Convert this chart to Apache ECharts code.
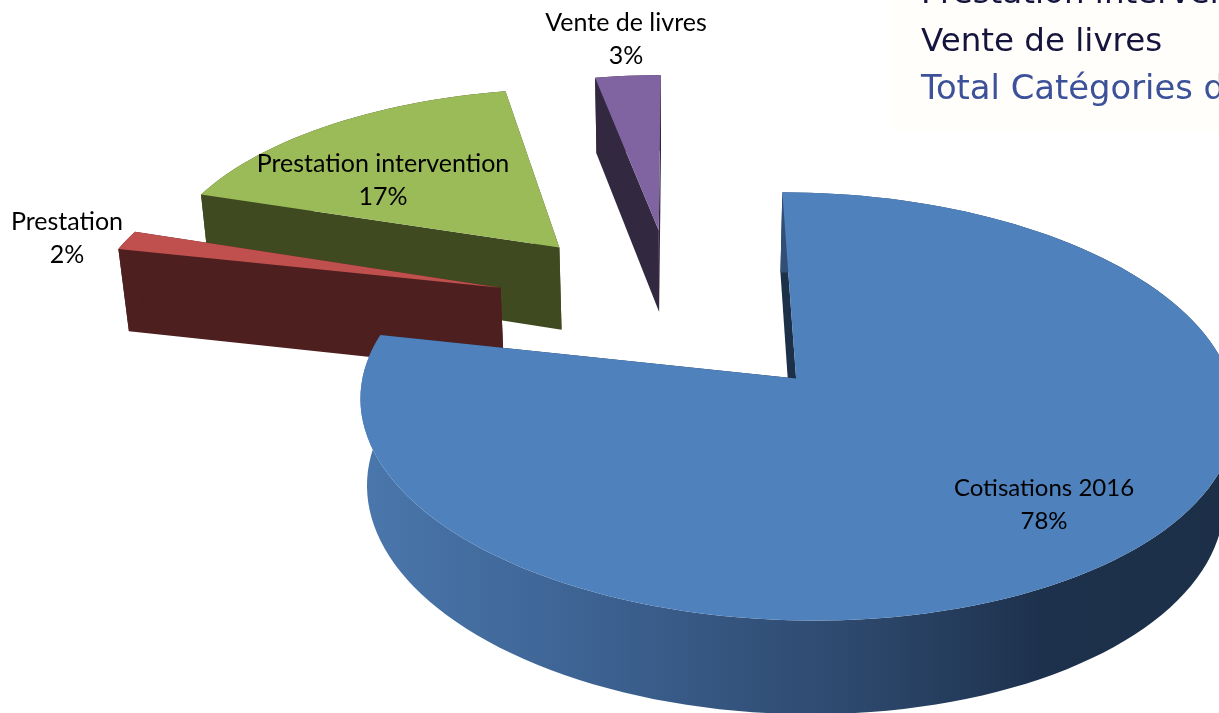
<!DOCTYPE html>
<html><head><meta charset="utf-8">
<style>html,body{margin:0;padding:0;background:#fff}#c{width:1219px;height:713px}</style>
<script src="https://cdn.jsdelivr.net/npm/echarts@6/dist/echarts.min.js"></script>
</head><body><div id="c"></div>
<script>
// data
const categories = ['Cotisations 2016', 'Prestation', 'Prestation intervention', 'Vente de livres'];
const values = [78.4, 1.6, 17, 3];
const legendFragment = ['Prestation intervention', 'Vente de livres', 'Total Catégories de produits'];

// styling and layout
const topColors = ['#4f81bd', '#c0504d', '#9bbb59', '#8064a2'];
const wallColors = ['#1c3048', '#4e1f1f', '#3f4a21', '#32283f'];
const drawOrder = [3, 2, 1, 0]; // z rank per category, painted back to front
const labelAt = [[1044, 488], [67, 222], [383, 164], [626, 23]];
const labelSize = [24, 25, 25, 25];
const explodeXScale = [0.98, 1, 1, 1.1];
const explodeYScale = [0.97, 1, 1, 0.97];
const radiusXScale = [1.008, 1, 1, 1];
const view = { cx: 677, cy: 310, R: 412, Ry: 193, p: 0.125, depth: 86, q: 0.02, explode: 0.45, start: 0 };

const total = values.reduce((a, b) => a + b, 0);
const rad = d => d * Math.PI / 180;

function project(u, v, z) {
  const k = 1 / (1 + view.p * v + view.q * z);
  return [view.cx + view.R * u * k, view.cy - view.Ry * v * k + view.depth * z * k];
}
function sliceGeometry(i) {
  let before = 0;
  for (let j = 0; j < i; j++) before += values[j];
  const a0 = view.start + before / total * 360;
  const a1 = a0 + values[i] / total * 360;
  const mid = rad((a0 + a1) / 2);
  const ou = Math.sin(mid) * view.explode * explodeXScale[i];
  const ov = Math.cos(mid) * view.explode * explodeYScale[i];
  const n = Math.max(4, Math.ceil((a1 - a0) / 2));
  const rim = z => {
    const pts = [];
    for (let s = 0; s <= n; s++) {
      const a = rad(a0 + (a1 - a0) * s / n);
      pts.push(project(ou + Math.sin(a) * radiusXScale[i], ov + Math.cos(a), z));
    }
    return pts;
  };
  return { apexTop: project(ou, ov, 0), apexBot: project(ou, ov, 1), rimTop: rim(0), rimBot: rim(1) };
}

const blueWall = new echarts.graphic.LinearGradient(0, 0, 1, 0, [
  { offset: 0, color: '#4a77ad' },
  { offset: 0.28, color: '#3c6190' },
  { offset: 0.6, color: '#2b4568' },
  { offset: 0.78, color: '#1d314c' },
  { offset: 1, color: '#1c2f47' }
]);

function renderItem(params) {
  const i = params.dataIndex;
  const g = sliceGeometry(i);
  const base = drawOrder[i] * 10;
  const last = g.rimTop.length - 1;
  const poly = (points, fill, z2) => ({ type: 'polygon', shape: { points }, style: { fill }, z2, silent: true });
  const children = [
    poly([g.apexTop, g.rimTop[0], g.rimBot[0], g.apexBot], wallColors[i], base),
    poly([g.apexTop, g.rimTop[last], g.rimBot[last], g.apexBot], wallColors[i], base),
    poly(g.rimTop.concat(g.rimBot.slice().reverse()), i === 0 ? blueWall : wallColors[i], base + 1),
    poly([g.apexTop].concat(g.rimTop), topColors[i], base + 2)
  ];
  [categories[i], Math.round(values[i]) + '%'].forEach((t, row) => children.push({
    type: 'text', z2: 100, silent: true,
    x: labelAt[i][0], y: labelAt[i][1] + row * 33,
    style: { text: t, x: 0, y: 0, fill: '#000', font: labelSize[i] + 'px Lato', align: 'center', verticalAlign: 'middle' }
  }));
  return { type: 'group', children };
}

const chart = echarts.init(document.getElementById('c'), null, { renderer: 'canvas' });
chart.setOption({
  animation: false,
  backgroundColor: '#ffffff',
  graphic: [
    { type: 'rect', shape: { x: 892, y: 0, width: 327, height: 130 }, style: { fill: '#fffefa' }, z: -1, silent: true },
    { type: 'text', x: 921, y: -5, silent: true, style: { text: legendFragment[0], fill: '#14143c', font: '32.5px "DejaVu Sans"', verticalAlign: 'middle' } },
    { type: 'text', x: 921, y: 43, silent: true, style: { text: legendFragment[1], fill: '#14143c', font: '32.5px "DejaVu Sans"', verticalAlign: 'middle' } },
    { type: 'text', x: 921, y: 90, silent: true, style: { text: legendFragment[2], fill: '#3c5199', font: '33.8px "DejaVu Sans"', verticalAlign: 'middle' } }
  ],
  series: [{
    type: 'custom',
    coordinateSystem: 'none',
    renderItem,
    silent: true,
    data: values
  }]
});
</script></body></html>
